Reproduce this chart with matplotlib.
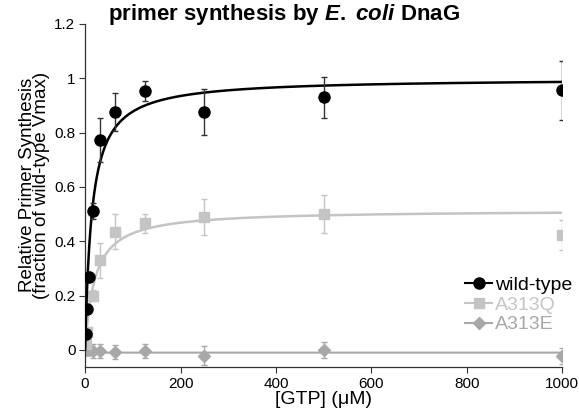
import numpy as np
import matplotlib
matplotlib.use("Agg")
import matplotlib.pyplot as plt
from matplotlib.lines import Line2D

plt.rcParams['font.family'] = ['Liberation Sans', 'DejaVu Sans']
plt.rcParams['mathtext.fontset'] = 'custom'
plt.rcParams['mathtext.it'] = 'Liberation Sans:italic:bold'
plt.rcParams['mathtext.rm'] = 'Liberation Sans:bold'

# Data
wt_x = [0.98, 3.9, 7.8, 15.6, 31.25, 62.5, 125, 250, 500, 1000]
wt_y = [0.06, 0.15, 0.27, 0.51, 0.773, 0.876, 0.953, 0.876, 0.93, 0.955]
wt_err = [0.01, 0.01, 0.015, 0.03, 0.08, 0.07, 0.037, 0.085, 0.075, 0.11]

q_x = [0.98, 3.9, 15.6, 31.25, 62.5, 125, 250, 500, 1000]
q_y = [0.02, 0.066, 0.2, 0.33, 0.435, 0.467, 0.49, 0.50, 0.423]
q_err = [0.01, 0.01, 0.02, 0.065, 0.065, 0.035, 0.066, 0.07, 0.055]

e_x = [0.98, 3.9, 7.8, 15.6, 31.25, 62.5, 125, 250, 500, 1000]
e_y = [0.0, 0.005, 0.0, -0.005, -0.005, -0.008, -0.005, -0.022, 0.0, -0.022]
e_err = [0.02, 0.02, 0.02, 0.025, 0.025, 0.025, 0.025, 0.035, 0.03, 0.03]

# Michaelis-Menten fit parameters
wt_vmax, wt_km = 1.0, 14.0
q_vmax, q_km = 0.515, 20.0
e_level = -0.01

c_wt = 'black'
c_q = '#c4c4c4'
c_e = '#a8a8a8'

fig = plt.figure(figsize=(5.79, 4.11), dpi=100)
ax = fig.add_axes([0.147, 0.107, 0.824, 0.835])

xf = np.linspace(0, 1000, 2000)
ax.plot(xf, e_level + 0 * xf, color=c_e, lw=1.5, zorder=1)
ax.plot(xf, q_vmax * xf / (q_km + xf), color=c_q, lw=1.8, zorder=1)
ax.plot(xf, wt_vmax * xf / (wt_km + xf), color=c_wt, lw=1.8, zorder=3)

ax.errorbar(e_x, e_y, yerr=e_err, fmt='D', color=c_e, ms=6.5, ecolor=c_e,
            elinewidth=1, capsize=2.5, zorder=2)
ax.errorbar(q_x, q_y, yerr=q_err, fmt='s', color=c_q, ms=7, ecolor=c_q,
            elinewidth=1, capsize=2.5, zorder=2)
ax.errorbar(wt_x, wt_y, yerr=wt_err, fmt='o', color=c_wt, ms=8, ecolor='#333333',
            elinewidth=1, capsize=2.5, zorder=4)

ax.set_xlim(0, 1000)
ax.set_ylim(-0.063, 1.2)
ax.set_xticks([0, 200, 400, 600, 800, 1000])
ax.set_yticks([0, 0.2, 0.4, 0.6, 0.8, 1.0, 1.2])
ax.set_yticklabels(['0', '0.2', '0.4', '0.6', '0.8', '1', '1.2'])
for s in ['top', 'right']:
    ax.spines[s].set_visible(False)
for s in ['left', 'bottom']:
    ax.spines[s].set_color('#333333')
    ax.spines[s].set_linewidth(0.9)
ax.tick_params(direction='out', length=4, width=0.8, color='#333333',
               labelsize=11, pad=3)
ax.set_xlabel('[GTP] (μM)', fontsize=14, labelpad=0)
ax.set_ylabel('Relative Primer Synthesis\n(fraction of wild-type Vmax)',
              fontsize=13.5, linespacing=0.8)
ax.yaxis.set_label_coords((50 - 85) / 477, 0.53)

handles = [
    Line2D([], [], color=c_wt, marker='o', ms=8, lw=1.5),
    Line2D([], [], color=c_q, marker='s', ms=7, lw=1.5),
    Line2D([], [], color=c_e, marker='D', ms=6.5, lw=1.5),
]
leg = ax.legend(handles, ['wild-type', 'A313Q', 'A313E'], loc='center left',
                bbox_to_anchor=(465 / 579, 1 - 305 / 411),
                bbox_transform=fig.transFigure, frameon=False, fontsize=14,
                handlelength=1.4, handletextpad=0.15, labelspacing=0.1,
                borderpad=0, borderaxespad=0)
for t, c in zip(leg.get_texts(), [c_wt, c_q, c_e]):
    t.set_color(c)

fig.text(0.49, 1 - 20 / 411, r'primer synthesis by $\mathit{E.}$ $\mathit{coli}$ DnaG',
         ha='center', va='baseline', fontsize=16, fontweight='bold')

fig.savefig('out.png', dpi=100)
